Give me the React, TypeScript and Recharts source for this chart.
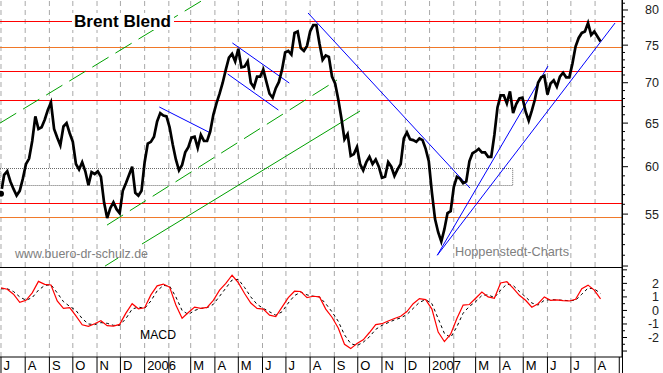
import React from "react";
import { ComposedChart, Line, XAxis, YAxis, ReferenceLine, ReferenceArea } from "recharts";

// Brent Blend, Jul 2005 - Aug 2007. Day 0 = 1 Jul 2005.
const closeStepDays = 4;
const closes = [
  57.1, 59.1, 59.5, 58.4, 57.6, 56.9, 57.4, 58.7, 60.3, 60.9,
  62.9, 65.8, 64.3, 64.5, 65.4, 66.6, 67.5, 64.3, 63.3, 62.4,
  64.6, 65.0, 63.8, 62.8, 60.3, 59.7, 60.5, 59.5, 58.0, 59.4,
  59.2, 59.5, 58.9, 56.2, 54.6, 55.6, 56.2, 55.5, 55.1, 57.4,
  58.2, 59.1, 60.0, 57.2, 56.9, 57.4, 60.5, 62.6, 62.8, 63.4,
  65.2, 66.2, 65.9, 65.8, 64.5, 62.5, 60.8, 59.6, 60.2, 61.6,
  62.2, 63.3, 63.4, 62.1, 63.6, 62.9, 62.9, 64.0, 66.0, 67.4,
  68.6, 70.0, 71.7, 73.3, 73.8, 72.8, 74.5, 72.0, 72.1, 72.8,
  70.0, 69.4, 70.8, 70.8, 71.7, 70.1, 68.6, 68.1, 69.3, 70.1,
  71.7, 74.0, 74.2, 73.7, 76.7, 76.9, 74.6, 74.2, 74.9, 76.9,
  77.8, 77.8, 75.2, 73.0, 73.6, 73.4, 70.8, 69.9, 67.9, 65.6,
  63.1, 63.7, 61.2, 61.4, 62.2, 60.3, 59.6, 60.5, 61.1, 60.3,
  60.8, 60.0, 58.8, 58.9, 60.5, 60.0, 59.0, 59.7, 60.3, 63.2,
  63.9, 63.1, 63.0, 62.8, 63.2, 63.0, 62.0, 60.6, 57.2, 54.5,
  53.2, 52.3, 53.5, 55.1, 55.3, 57.8, 58.9, 58.7, 58.2, 58.4,
  60.6, 61.5, 61.7, 62.0, 61.6, 61.6, 61.1, 61.1, 63.6, 66.9,
  68.4, 68.4, 67.4, 68.9, 66.2, 67.3, 68.0, 68.1, 66.4, 65.3,
  66.5, 67.9, 70.0, 70.7, 70.9, 68.5, 69.9, 70.3, 69.5, 70.8,
  71.3, 70.7, 70.7, 72.5, 74.8, 76.0, 76.7, 76.9, 78.1, 76.4,
  76.9, 76.2, 75.5,
];

const macdStepDays = 8;
const macdValues = [
  1.67, 1.57, 1.2, 0.6, 0.75, 1.3, 2.15, 1.93, 1.88, 0.7,
  0.16, 0.2, -0.4, -1.06, -1.17, -0.98, -0.76, -1.12, -1.16, -1.03,
  -0.2, 0.5, 0.12, 0.2, 1.15, 1.82, 1.95, 1.72, 0.4, -0.57,
  -0.15, 0.25, 0.15, 0.22, 0.75, 1.5, 2.0, 2.6, 2.05, 1.25,
  0.55, 0.15, 0.1, -0.35, -0.45, 0.25, 0.95, 1.42, 1.4, 0.95,
  1.05, 1.0, 0.1, -0.5, -1.3, -2.5, -2.82, -2.44, -2.17, -1.63,
  -1.05, -0.98, -0.78, -0.6, -0.43, -0.08, 0.5, 0.88, 0.8, 0.1,
  -1.6, -2.3, -1.75, -0.6, 0.4, 0.44, 0.9, 1.36, 1.0, 0.9,
  2.03, 2.12, 1.65, 1.12, 0.75, 0.24, 0.5, 1.0, 0.75, 0.78,
  0.72, 0.7, 0.82, 1.6, 1.87, 1.5, 0.85,
];
const signalValues = [
  1.6, 1.6, 1.4, 1.0, 0.75, 0.95, 1.5, 1.85, 1.9, 1.3,
  0.65, 0.3, 0.0, -0.6, -1.0, -1.05, -0.9, -0.95, -1.1, -1.1,
  -0.6, 0.1, 0.25, 0.15, 0.7, 1.45, 1.85, 1.8, 1.0, 0.0,
  -0.3, 0.0, 0.15, 0.2, 0.45, 1.05, 1.65, 2.25, 2.3, 1.7,
  1.0, 0.45, 0.15, -0.1, -0.35, -0.1, 0.55, 1.1, 1.35, 1.15,
  1.05, 1.0, 0.5, -0.1, -0.8, -1.8, -2.45, -2.6, -2.35, -1.95,
  -1.4, -1.1, -0.9, -0.7, -0.55, -0.3, 0.15, 0.6, 0.8, 0.5,
  -0.6, -1.7, -2.0, -1.2, -0.2, 0.3, 0.65, 1.1, 1.15, 0.95,
  1.5, 1.95, 1.85, 1.4, 1.0, 0.55, 0.4, 0.75, 0.8, 0.78,
  0.75, 0.72, 0.75, 1.2, 1.65, 1.6, 1.25,
];

const monthStarts = [0, 31, 62, 92, 123, 153, 184, 215, 243, 274, 304, 335, 365, 396, 427, 457, 488, 518, 549, 580, 608, 639, 669, 700, 730, 761, 792];
const monthLabels = ["J", "A", "S", "O", "N", "D", "2006", "", "M", "A", "M", "J", "J", "A", "S", "O", "N", "D", "2007", "", "M", "A", "M", "J", "J", "A", ""];

const priceTicks = [50, 51, 52, 53, 54, 55, 56, 57, 58, 59, 60, 61, 62, 63, 64, 65, 66, 67, 68, 69, 70, 71, 72, 73, 74, 75, 76, 77, 78, 79, 80, 81];
const priceLabels = [55, 60, 65, 70, 75, 80];
const macdTicks = [-3, -2.5, -2, -1.5, -1, -0.5, 0, 0.5, 1, 1.5, 2, 2.5, 3];
const macdLabels = [-2, -1, 0, 1, 2];

const redLevels = [78.326, 71.457, 67.752, 56.079];
const orangeLevels = [74.675, 54.656];
const boxLow = 57.963;
const boxHigh = 59.8;
const boxEndDay = 655.5;

// [day, price] pairs
const blueTrends = [
  [[393.3, 79.56], [600.8, 57.69]],
  [[558.9, 51.0], [700.7, 72.18]],
  [[558.9, 51.0], [786.6, 78.11]],
  [[202.8, 66.95], [268.6, 63.82]],
  [[296.4, 75.3], [369.3, 69.96]],
  [[290.4, 71.13], [355.3, 66.58]],
];
const greenDashed = [
  [[-1.3, 65.0], [260, 81.57]],
  [[135.8, 53.9], [430.4, 70.35]],
  [[133.2, 49.99], [149.9, 50.74]],
];
const greenSolid = [[[180.6, 52.06], [459.9, 66.46]]];

const priceData = closes.map((c, i) => ({ day: i * closeStepDays, close: c }));
const macdData = macdValues.map((m, i) => ({ day: i * macdStepDays, macd: m, signal: signalValues[i] }));

const X_DOMAIN: [number, number] = [-1.28, 795.5];
const AXIS_X = 622;
const FONT = '"Liberation Sans", Arial, sans-serif';

const PriceTick = (props: any) => {
  const { y, payload } = props;
  const v = payload.value;
  const major = v % 5 === 0;
  return (
    <g>
      <line x1={AXIS_X} x2={AXIS_X + (major ? 6 : 3)} y1={y} y2={y} stroke="#000" />
      {priceLabels.includes(v) && (
        <text x={659} y={y + 4.5} textAnchor="end" fontSize={12.5} fill="#222" fontFamily={FONT}>
          {v}
        </text>
      )}
    </g>
  );
};

const MacdTick = (props: any) => {
  const { y, payload } = props;
  const v = payload.value;
  const major = Number.isInteger(v);
  return (
    <g>
      <line x1={AXIS_X} x2={AXIS_X + (major ? 5 : 3)} y1={y} y2={y} stroke="#000" />
      {macdLabels.includes(v) && (
        <text x={659} y={y + 4.5} textAnchor="end" fontSize={12.5} fill="#222" fontFamily={FONT}>
          {v}
        </text>
      )}
    </g>
  );
};

const MonthTick = (props: any) => {
  const { x, payload } = props;
  const label = monthLabels[monthStarts.indexOf(payload.value)];
  return (
    <g>
      <line x1={x} x2={x} y1={90} y2={106} stroke="#000" />
      <text x={x + 2.5} y={103} fontSize={13} fill="#000" fontFamily={FONT}>
        {label}
      </text>
    </g>
  );
};

const gridLines = () =>
  monthStarts.slice(0, -1).map((d) => (
    <ReferenceLine key={"g" + d} x={d} stroke="#a8a8a8" strokeDasharray="5 4" />
  ));

export default function App() {
  return (
    <div style={{ position: "absolute", left: 0, top: 0, width: 663, height: 373, background: "#fff", overflow: "hidden" }}>
      <div style={{ position: "absolute", left: 0, top: 0 }}>
        <ComposedChart width={663} height={267} data={priceData} margin={{ top: 0, right: 0, bottom: 0, left: 0 }}>
          <XAxis type="number" dataKey="day" domain={X_DOMAIN} allowDataOverflow hide />
          <YAxis
            orientation="right"
            width={41}
            type="number"
            scale="log"
            domain={[49.91, 81.48]}
            allowDataOverflow
            ticks={priceTicks}
            interval={0}
            tick={(p: any) => <PriceTick {...p} />}
            tickLine={false}
            axisLine={{ stroke: "#000" }}
          />
          {gridLines()}
          <ReferenceArea x1={-1.28} x2={boxEndDay} y1={boxLow} y2={boxHigh} fill="none" stroke="#666" strokeDasharray="1 1" ifOverflow="hidden" />
          {redLevels.map((v) => (
            <ReferenceLine key={"r" + v} y={v} stroke="#ff0000" strokeWidth={1} />
          ))}
          {orangeLevels.map((v) => (
            <ReferenceLine key={"o" + v} y={v} stroke="#f07828" strokeWidth={1} />
          ))}
          {greenDashed.map((s, i) => (
            <ReferenceLine
              key={"gd" + i}
              segment={[{ x: s[0][0], y: s[0][1] }, { x: s[1][0], y: s[1][1] }]}
              stroke="#00a000"
              strokeDasharray="19 8"
              ifOverflow="hidden"
            />
          ))}
          {greenSolid.map((s, i) => (
            <ReferenceLine
              key={"gs" + i}
              segment={[{ x: s[0][0], y: s[0][1] }, { x: s[1][0], y: s[1][1] }]}
              stroke="#00a000"
              ifOverflow="hidden"
            />
          ))}
          {blueTrends.map((s, i) => (
            <ReferenceLine
              key={"b" + i}
              segment={[{ x: s[0][0], y: s[0][1] }, { x: s[1][0], y: s[1][1] }]}
              stroke="#0000ff"
              ifOverflow="hidden"
            />
          ))}
          <Line type="linear" dataKey="close" stroke="#000" strokeWidth={2.7} dot={false} isAnimationActive={false} />
        </ComposedChart>
      </div>

      <div style={{ position: "absolute", left: 0, top: 267 }}>
        <ComposedChart width={663} height={106} data={macdData} margin={{ top: 0, right: 0, bottom: 0, left: 0 }}>
          <XAxis
            type="number"
            dataKey="day"
            domain={X_DOMAIN}
            allowDataOverflow
            ticks={monthStarts}
            interval={0}
            height={16}
            tick={(p: any) => <MonthTick {...p} />}
            tickLine={false}
            axisLine={{ stroke: "#000" }}
          />
          <YAxis
            orientation="right"
            width={41}
            type="number"
            domain={[-3.44, 3.21]}
            allowDataOverflow
            ticks={macdTicks}
            interval={0}
            tick={(p: any) => <MacdTick {...p} />}
            tickLine={false}
            axisLine={{ stroke: "#000" }}
          />
          {gridLines()}
          <Line type="linear" dataKey="signal" stroke="#000" strokeWidth={1} strokeDasharray="3 3" dot={false} isAnimationActive={false} />
          <Line type="linear" dataKey="macd" stroke="#ff0000" strokeWidth={1.2} dot={false} isAnimationActive={false} />
        </ComposedChart>
      </div>

      <svg width={663} height={373} style={{ position: "absolute", left: 0, top: 0, pointerEvents: "none" }}>
        <line x1={0} x2={AXIS_X} y1={267.5} y2={267.5} stroke="#000" />
        <line x1={AXIS_X + 0.5} x2={AXIS_X + 0.5} y1={0} y2={373} stroke="#000" />
        <rect x={72} y={13} width={102} height={17} fill="#fff" />
        <text x={74} y={27.3} fontSize={16} fontWeight="bold" fontFamily={FONT} fill="#000" textLength={97} lengthAdjust="spacingAndGlyphs">
          Brent Blend
        </text>
        <text x={15} y={258} fontSize={13} fontFamily={FONT} fill="#808080" textLength={133} lengthAdjust="spacingAndGlyphs">
          www.buero-dr-schulz.de
        </text>
        <text x={455} y={256} fontSize={13} fontFamily={FONT} fill="#808080" textLength={114} lengthAdjust="spacingAndGlyphs">
          Hoppenstedt-Charts
        </text>
        <text x={140} y={339} fontSize={13.5} fontFamily={FONT} fill="#000" textLength={36} lengthAdjust="spacingAndGlyphs">
          MACD
        </text>
      </svg>
    </div>
  );
}
